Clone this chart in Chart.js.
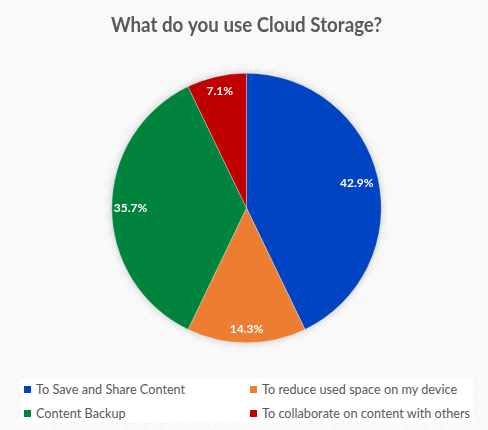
<!DOCTYPE html>
<html>
<head>
<meta charset="utf-8">
<script src="https://cdn.jsdelivr.net/npm/chart.js@4/dist/chart.umd.min.js"></script>
<style>
  html, body { margin: 0; padding: 0; }
  body {
    width: 488px; height: 430px; overflow: hidden; position: relative;
    background: repeating-linear-gradient(-45deg, #f4f4f4 0px, #f4f4f4 1px, #fbfbfb 1px, #fbfbfb 3px);
  }
  #wrap { position: absolute; left: 0; top: 0; width: 488px; height: 430px; }
  #legend {
    position: absolute; left: 20px; top: 378px; width: 453px; height: 45px;
    background: #ffffff; font-family: Lato, sans-serif; font-size: 12.7px; color: #595959;
  }
  .item { position: absolute; display: flex; align-items: center; white-space: nowrap; }
  .sw { width: 7px; height: 7px; margin-right: 5px; }
</style>
</head>
<body>
<div id="wrap"><canvas id="c" width="488" height="430"></canvas></div>
<div id="legend"></div>
<script>
const titleText = "What do you use Cloud Storage?";
const categories = [
  "To Save and Share Content",
  "To reduce used space on my device",
  "Content Backup",
  "To collaborate on content with others"
];
const values = [6, 2, 5, 1];
const percentLabels = ["42.9%", "14.3%", "35.7%", "7.1%"];
const colors = ["#0043C3", "#ED7D31", "#00843D", "#C00000"];

// HTML legend (2 columns)
const legend = document.getElementById('legend');
const pos = [[4, 11], [230, 11], [4, 35], [230, 35]];
categories.forEach((name, i) => {
  const d = document.createElement('div');
  d.className = 'item';
  d.style.left = pos[i][0] + 'px';
  d.style.top = (pos[i][1] - 8) + 'px';
  d.innerHTML = '<span class="sw" style="background:' + colors[i] + '"></span><span>' + name + '</span>';
  legend.appendChild(d);
});

const labelPlugin = {
  id: 'sliceLabels',
  afterDatasetsDraw(chart) {
    const ctx = chart.ctx;
    const meta = chart.getDatasetMeta(0);
    const fr = [0.84, 0.9, 0.86, 0.89];
    ctx.save();
    ctx.fillStyle = '#ffffff';
    ctx.font = 'bold 12px Lato, sans-serif';
    ctx.textAlign = 'center';
    ctx.textBaseline = 'middle';
    meta.data.forEach((arc, i) => {
      const p = arc.getProps(['x', 'y', 'startAngle', 'endAngle', 'outerRadius'], true);
      const mid = (p.startAngle + p.endAngle) / 2;
      const r = p.outerRadius * fr[i];
      ctx.fillText(percentLabels[i], p.x + Math.cos(mid) * r, p.y + Math.sin(mid) * r);
    });
    ctx.restore();
  }
};

const shadowPlugin = {
  id: 'pieShadow',
  beforeDatasetsDraw(chart) {
    const ctx = chart.ctx;
    const arc = chart.getDatasetMeta(0).data[0];
    if (!arc) return;
    ctx.save();
    ctx.shadowColor = 'rgba(0,0,0,0.25)';
    ctx.shadowBlur = 8;
    ctx.beginPath();
    ctx.arc(arc.x, arc.y, arc.outerRadius - 1, 0, Math.PI * 2);
    ctx.fillStyle = '#ffffff';
    ctx.fill();
    ctx.restore();
  }
};

new Chart(document.getElementById('c'), {
  type: 'pie',
  data: {
    labels: categories,
    datasets: [{
      data: values,
      backgroundColor: colors,
      borderColor: 'rgba(255,255,255,0.6)',
      borderWidth: 0.5
    }]
  },
  options: {
    responsive: false,
    animation: false,
    layout: { padding: { top: 0, left: 111, right: 106, bottom: 87 } },
    plugins: {
      legend: { display: false },
      tooltip: { enabled: false },
      title: {
        display: true,
        text: titleText,
        color: '#595959',
        font: { family: 'Lato, sans-serif', size: 21, weight: 'bold', lineHeight: 1.2 },
        padding: { top: 12.4, bottom: 35.4 }
      }
    }
  },
  plugins: [shadowPlugin, labelPlugin]
});
</script>
</body>
</html>
